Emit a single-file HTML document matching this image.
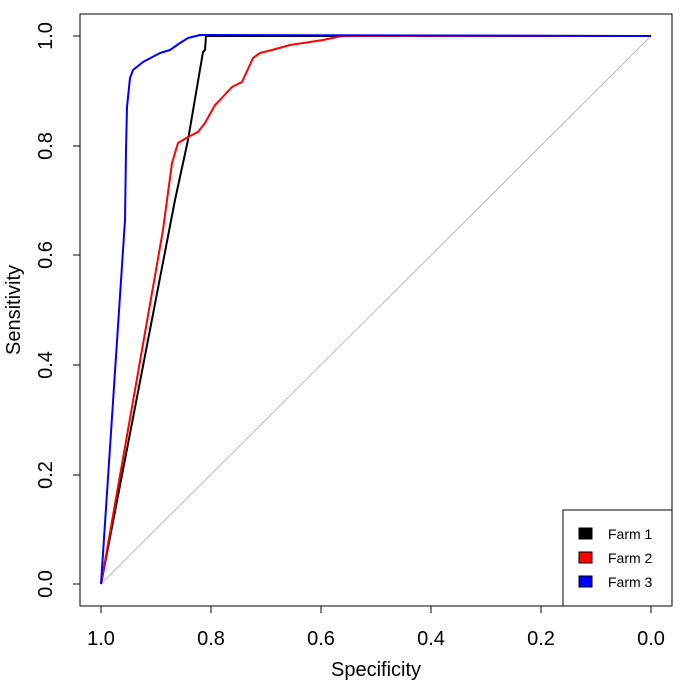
<!DOCTYPE html>
<html><head><style>body{margin:0;background:#fff}</style></head><body>
<svg width="684" height="686" xmlns="http://www.w3.org/2000/svg" font-family="Liberation Sans, sans-serif">
<rect x="80" y="14" width="592" height="592" fill="none" stroke="#000" stroke-width="1"/>
<line x1="101" y1="584" x2="651" y2="36" stroke="#bbb" stroke-width="1"/>
<g stroke="#000" stroke-width="1">
<line x1="101" y1="606" x2="651" y2="606"/>
<line x1="101" y1="606" x2="101" y2="613"/><line x1="211" y1="606" x2="211" y2="613"/>
<line x1="321" y1="606" x2="321" y2="613"/><line x1="431" y1="606" x2="431" y2="613"/>
<line x1="541" y1="606" x2="541" y2="613"/><line x1="651" y1="606" x2="651" y2="613"/>
<line x1="80" y1="36" x2="80" y2="584"/>
<line x1="73" y1="36" x2="80" y2="36"/><line x1="73" y1="146" x2="80" y2="146"/>
<line x1="73" y1="255" x2="80" y2="255"/><line x1="73" y1="365" x2="80" y2="365"/>
<line x1="73" y1="475" x2="80" y2="475"/><line x1="73" y1="584" x2="80" y2="584"/>
</g>
<g font-size="20" text-anchor="middle" fill="#000">
<text x="101" y="645">1.0</text><text x="211" y="645">0.8</text><text x="321" y="645">0.6</text>
<text x="431" y="645">0.4</text><text x="541" y="645">0.2</text><text x="651" y="645">0.0</text>
<text transform="translate(52,584) rotate(-90)">0.0</text>
<text transform="translate(52,475) rotate(-90)">0.2</text>
<text transform="translate(52,365) rotate(-90)">0.4</text>
<text transform="translate(52,255) rotate(-90)">0.6</text>
<text transform="translate(52,146) rotate(-90)">0.8</text>
<text transform="translate(52,36) rotate(-90)">1.0</text>
<text x="376" y="676">Specificity</text>
<text transform="translate(20,310) rotate(-90)">Sensitivity</text>
</g>
<g fill="none" stroke-width="2" stroke-linejoin="round">
<polyline stroke="#000" points="101,584 175,200 188,140 203,52 205,50 206,36 651,36"/>
<polyline stroke="#f00" points="101,584 163,230 165,215 172,163 178,143 188,137 198,132 205,123 215,105 218,102 232,87 242,82 253,58 260,53 272,50 290,45 310,42 323,40 337,37 343,36 651,36"/>
<polyline stroke="#00f" points="101,584 125,220 126,150 127,107 130,78 133,70 143,62 160,53 170,50 180,43 188,38 200,35 651,36"/>
</g>
<rect x="563" y="510" width="109" height="96" fill="#fff" stroke="#000" stroke-width="1"/>
<g font-size="14" fill="#000">
<rect x="579" y="528" width="13" height="11" fill="#000" stroke="#000"/><text x="608" y="539">Farm 1</text>
<rect x="579" y="552" width="13" height="11" fill="#f00" stroke="#000"/><text x="608" y="563">Farm 2</text>
<rect x="579" y="576" width="13" height="11" fill="#00f" stroke="#000"/><text x="608" y="587">Farm 3</text>
</g>
</svg>
</body></html>
